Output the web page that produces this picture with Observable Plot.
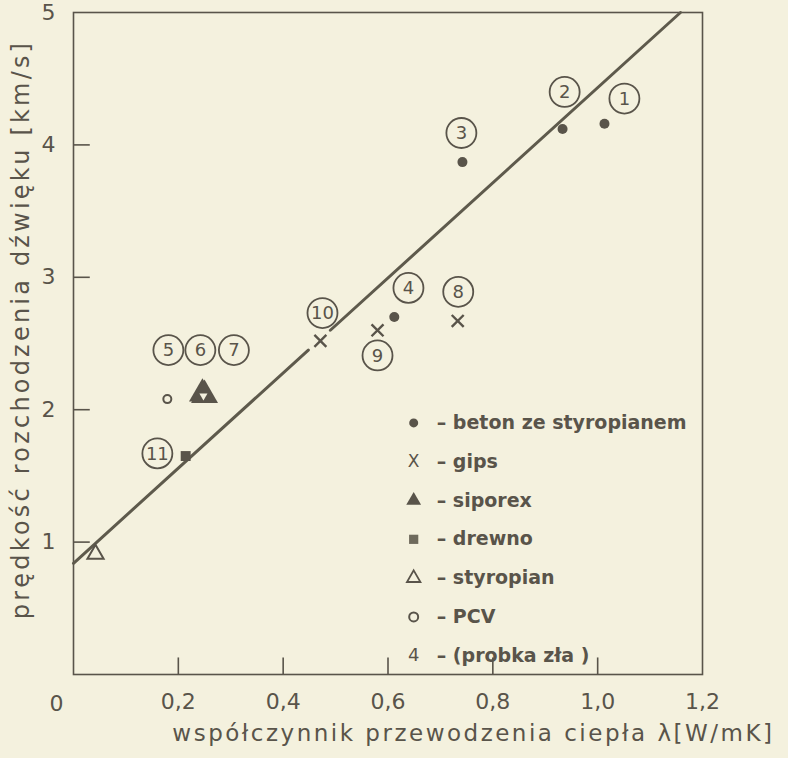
<!DOCTYPE html>
<html>
<head>
<meta charset="utf-8">
<script src="https://cdn.jsdelivr.net/npm/d3@7"></script>
<script src="https://cdn.jsdelivr.net/npm/@observablehq/plot@0.6"></script>
<style>
  html, body { margin: 0; padding: 0; background: #f4f1de; overflow: hidden; }
  #chart { width: 788px; height: 758px; }
</style>
</head>
<body>
<div id="chart"></div>
<script>
// ---- data ----
const xTicks = [0, 0.2, 0.4, 0.6, 0.8, 1.0, 1.2];
const yTicks = [1, 2, 3, 4, 5];

const pointLambda   = [1.013, 0.933, 0.742, 0.612, 0.179, 0.246, 0.250, 0.733, 0.580, 0.471, 0.214, 0.042];
const pointSpeed    = [4.16, 4.12, 3.87, 2.70, 2.08, 2.12, 2.11, 2.67, 2.60, 2.52, 1.65, 0.91];
const pointMaterial = ["beton", "beton", "beton", "beton", "PCV", "siporex", "siporex", "gips", "gips", "gips", "drewno", "styropian"];

const labelNo     = ["1", "2", "3", "4", "5", "6", "7", "8", "9", "10", "11"];
const labelLambda = [1.051, 0.937, 0.740, 0.639, 0.181, 0.242, 0.306, 0.734, 0.580, 0.475, 0.160];
const labelSpeed  = [4.35, 4.40, 4.09, 2.92, 2.45, 2.45, 2.45, 2.89, 2.41, 2.73, 1.67];

// regression line, drawn in two pieces (broken at marker 10)
const fitSegment = [1, 1, 2, 2];
const fitLambda  = [0, 0.448, 0.490, 1.158];
const fitSpeed   = [0.84, 2.45, 2.60, 5.00];

const legendKeys  = ["beton", "gips", "siporex", "drewno", "styropian", "PCV", "zla"];
const legendTexts = ["– beton ze styropianem", "– gips", "– siporex", "– drewno", "– styropian", "– PCV", "– (probka zła )"];

const xTitle = "współczynnik przewodzenia ciepła λ[W/mK]";
const yTitle = "prędkość rozchodzenia dźwięku [km/s]";

// ---- tables built from the arrays ----
const points = pointLambda.map((x, i) => ({x, y: pointSpeed[i], m: pointMaterial[i]}));
const labels = labelNo.map((t, i) => ({t, x: labelLambda[i], y: labelSpeed[i]}));
const fit = fitLambda.map((x, i) => ({x, y: fitSpeed[i], s: fitSegment[i]}));
const legend = legendKeys.map((k, i) => ({k, t: legendTexts[i], y: 1.90 - i * 0.293}));
const legendMarkX = 0.649, legendTextX = 0.693;

const ink = "#59544a";
const bg = "#f4f1de";
const font = "DejaVu Sans";
const of = (m) => points.filter(d => d.m === m);
const lg = (k) => legend.filter(d => d.k === k);
const fmt = d => d.toFixed(1).replace(".", ",");

const chart = Plot.plot({
  width: 788,
  height: 758,
  marginLeft: 73,
  marginTop: 12,
  marginRight: 86,
  marginBottom: 84,
  style: {background: "transparent", fontFamily: font, color: ink},
  x: {domain: [0, 1.2], axis: null},
  y: {domain: [0, 5], axis: null},
  marks: [
    Plot.frame({stroke: ink, strokeWidth: 1.6}),
    // inward ticks
    Plot.ruleY(yTicks.slice(0, 4), {y: d => d, x1: 0, x2: 0.032, stroke: ink, strokeWidth: 1.6}),
    Plot.ruleX(xTicks.slice(1, 6), {x: d => d, y1: 0, y2: 0.125, stroke: ink, strokeWidth: 1.6}),
    // tick labels
    Plot.text(yTicks, {x: 0, y: d => d, text: d => String(d), dx: -25, fontSize: 22, fill: ink}),
    Plot.text(xTicks.slice(1), {x: d => d, y: 0, text: fmt, dy: 27, fontSize: 22, fill: ink}),
    Plot.text([0], {x: d => d, y: 0, text: d => "0", dx: -17, dy: 29, fontSize: 22, fill: ink}),
    // axis titles
    Plot.text([yTitle], {frameAnchor: "left", text: d => d, dx: -52, dy: -14, rotate: -90, textAnchor: "middle", fontSize: 24, fill: ink}),
    Plot.text([xTitle], {frameAnchor: "bottom-right", text: d => d, dx: 72, dy: 66, textAnchor: "end", fontSize: 23, fill: ink}),
    // regression line
    Plot.line(fit, {x: "x", y: "y", z: "s", stroke: "#5e5a4c", strokeWidth: 3}),
    // data points
    Plot.dot(of("beton"), {x: "x", y: "y", symbol: "circle", r: 5, fill: ink}),
    Plot.dot(of("gips"), {x: "x", y: "y", symbol: "times", r: 5.5, stroke: ink, strokeWidth: 2.4}),
    Plot.dot(of("siporex"), {x: "x", y: "y", symbol: "triangle", r: 10, fill: ink}),
    Plot.dot(of("siporex").slice(0, 1), {x: "x", y: "y", symbol: "triangle", r: 3, rotate: 180, dx: 1, dy: 2, fill: bg}),
    Plot.dot(of("drewno"), {x: "x", y: "y", symbol: "square", r: 5.6, fill: ink}),
    Plot.dot(of("styropian"), {x: "x", y: "y", symbol: "triangle", r: 6, stroke: ink, strokeWidth: 2, fill: bg}),
    Plot.dot(of("PCV"), {x: "x", y: "y", symbol: "circle", r: 4, stroke: ink, strokeWidth: 2, fill: "none"}),
    // circled numbers
    Plot.dot(labels, {x: "x", y: "y", r: 15, stroke: ink, strokeWidth: 1.8, fill: bg}),
    Plot.text(labels, {x: "x", y: "y", text: "t", fontSize: 18, fill: ink, dy: 0.5}),
    // legend
    Plot.dot(lg("beton"), {x: legendMarkX, y: "y", symbol: "circle", r: 4.5, fill: ink}),
    Plot.text(lg("gips"), {x: legendMarkX, y: "y", text: d => "X", fontSize: 17, fill: ink}),
    Plot.dot(lg("siporex"), {x: legendMarkX, y: "y", symbol: "triangle", r: 5.5, fill: ink}),
    Plot.dot(lg("drewno"), {x: legendMarkX, y: "y", symbol: "square", r: 5.2, fill: "#6e6a5c"}),
    Plot.dot(lg("styropian"), {x: legendMarkX, y: "y", symbol: "triangle", r: 5, stroke: ink, strokeWidth: 1.8, fill: "none"}),
    Plot.dot(lg("PCV"), {x: legendMarkX, y: "y", symbol: "circle", r: 4.5, stroke: ink, strokeWidth: 2, fill: "none"}),
    Plot.text(lg("zla"), {x: legendMarkX, y: "y", text: d => "4", fontSize: 18, fill: ink}),
    Plot.text(legend, {x: legendTextX, y: "y", text: "t", textAnchor: "start", fontSize: 19, fontWeight: "bold", fill: ink})
  ]
});
// widen the axis titles' letter spacing like the lettering of the original
d3.select(chart).selectAll("text")
  .filter(function() { return this.textContent === xTitle; })
  .style("letter-spacing", "2.5px");
d3.select(chart).selectAll("text")
  .filter(function() { return this.textContent === yTitle; })
  .style("letter-spacing", "3.2px");
document.getElementById("chart").appendChild(chart);
</script>
</body>
</html>
